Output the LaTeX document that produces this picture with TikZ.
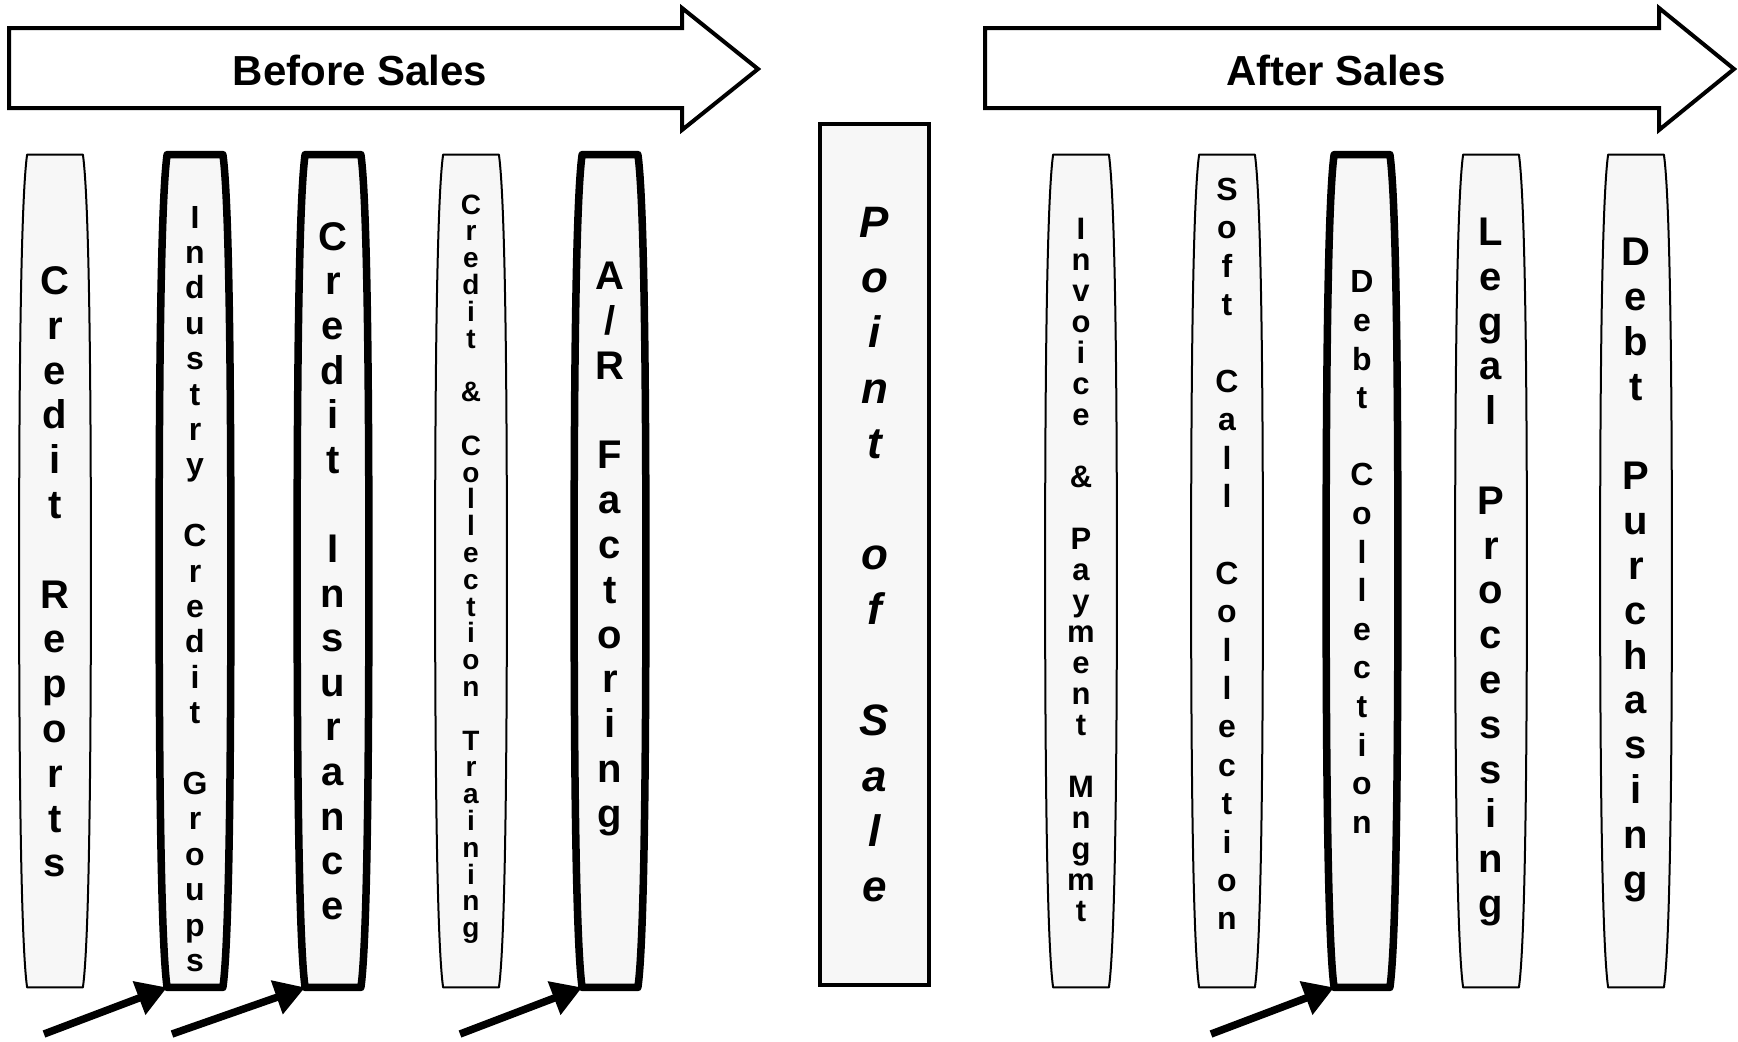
\documentclass[tikz,border=0pt]{standalone}
\usepackage{fontspec}
\setmainfont{Liberation Sans}
\usetikzlibrary{arrows.meta,backgrounds}

\tikzset{
  bar/.style={rectangle,inner sep=0pt,minimum width=27.5pt,minimum height=416pt},
  thinside/.style={draw=black,line width=1pt,fill=black!3,line join=round},
  thickside/.style={draw=black,line width=3.75pt,fill=black!3,line join=round},
  letters/.style 2 args={font=\fontsize{#1}{#2}\selectfont\bfseries,align=center,inner sep=0pt},
  posbox/.style={draw=black,line width=2pt,fill=black!3,inner sep=0pt,
    minimum width=54.5pt,minimum height=430.5pt,align=center,
    font=\fontsize{22pt}{27.7pt}\selectfont\bfseries\itshape},
  bigarrow/.style={draw=black,line width=2pt,fill=white,line join=miter},
  banner/.style={font=\fontsize{21pt}{24pt}\selectfont\bfseries},
  pointer/.style={line width=3.75pt,-{Triangle[length=15pt,width=17pt]}},
}
% outline of one column round the frame node #2
\newcommand{\drawbarrel}[2]{%
  \path[#1] (#2.north west) -- (#2.north east)
    to[out=-82,in=90,out looseness=0.3] ([xshift=4pt]#2.east)
    to[out=-90,in=82,in looseness=0.3] (#2.south east) -- (#2.south west)
    to[out=98,in=-90,out looseness=0.3] ([xshift=-4pt]#2.west)
    to[out=90,in=-98,in looseness=0.3] (#2.north west) -- cycle;}

\begin{document}
\begin{tikzpicture}[x=0.5pt,y=0.5pt]
	\useasboundingbox (0,0) rectangle (1738,-1041);
	% the two banners
	\draw[bigarrow] (9,-28)--(682,-28)--(682,-8)--(758,-69)--(682,-130)--(682,-108)--(9,-108)--cycle;
	\node[banner] (before) at (360,-70) {Before Sales};
	\draw[bigarrow] (985,-28)--(1659,-28)--(1659,-8)--(1734,-69)--(1659,-130)--(1659,-108)--(985,-108)--cycle;
	\node[banner] (after) at (1336,-70) {After Sales};
	% column frames
	\foreach \n/\x in {reports/55,groups/195,insurance/333,training/471,factoring/610,
		invoice/1081,softcall/1227,debtcoll/1362,legal/1491,purchase/1636}
		\node[bar] (\n) at (\x,-571) {};
	\begin{pgfonlayer}{background}
		\foreach \n in {reports,training,invoice,softcall,legal,purchase}
			{\drawbarrel{thinside}{\n}}
		\foreach \n in {groups,insurance,factoring,debtcoll}
			{\drawbarrel{thickside}{\n}}
	\end{pgfonlayer}
	% column texts
	\node[letters={20pt}{22.4pt}] (reports-t) at (55,-572) {C\\r\\e\\d\\i\\t\\~\\R\\e\\p\\o\\r\\t\\s};
	\node[letters={16pt}{17.7pt}] (groups-t) at (195,-589) {I\\n\\d\\u\\s\\t\\r\\y\\~\\C\\r\\e\\d\\i\\t\\~\\G\\r\\o\\u\\p\\s};
	\node[letters={20pt}{22.3pt}] (insurance-t) at (333,-571) {C\\r\\e\\d\\i\\t\\~\\I\\n\\s\\u\\r\\a\\n\\c\\e};
	\node[letters={14pt}{13.4pt}] (training-t) at (471,-569) {C\\r\\e\\d\\i\\t\\~\\\&\\~\\C\\o\\l\\l\\e\\c\\t\\i\\o\\n\\~\\T\\r\\a\\i\\n\\i\\n\\g};
	\node[letters={20pt}{22.4pt}] (factoring-t) at (610,-549) {A\\/\\R\\~\\F\\a\\c\\t\\o\\r\\i\\n\\g};
	\node[posbox] (pos) at (874.5,-554.5) {P\\o\\i\\n\\t\\~\\o\\f\\~\\S\\a\\l\\e};
	\node[letters={15.5pt}{15.5pt}] (invoice-t) at (1081,-570) {I\\n\\v\\o\\i\\c\\e\\~\\\&\\~\\P\\a\\y\\m\\e\\n\\t\\~\\M\\n\\g\\m\\t};
	\node[letters={16pt}{19.2pt}] (softcall-t) at (1227,-554) {S\\o\\f\\t\\~\\C\\a\\l\\l\\~\\C\\o\\l\\l\\e\\c\\t\\i\\o\\n};
	\node[letters={16pt}{19.3pt}] (debtcoll-t) at (1362,-552) {D\\e\\b\\t\\~\\C\\o\\l\\l\\e\\c\\t\\i\\o\\n};
	\node[letters={20pt}{22.4pt}] (legal-t) at (1491,-572) {L\\e\\g\\a\\l\\~\\P\\r\\o\\c\\e\\s\\s\\i\\n\\g};
	\node[letters={20pt}{22.4pt}] (purchase-t) at (1636,-570) {D\\e\\b\\t\\~\\P\\u\\r\\c\\h\\a\\s\\i\\n\\g};
	% pointers
	\coordinate (p1) at (44,-1034);
	\coordinate (p2) at (172,-1034);
	\coordinate (p3) at (460,-1034);
	\coordinate (p4) at (1211,-1034);
	\draw[pointer] (p1)--(groups.south west);
	\draw[pointer] (p2)--(insurance.south west);
	\draw[pointer] (p3)--(factoring.south west);
	\draw[pointer] (p4)--(debtcoll.south west);
\end{tikzpicture}
\end{document}
